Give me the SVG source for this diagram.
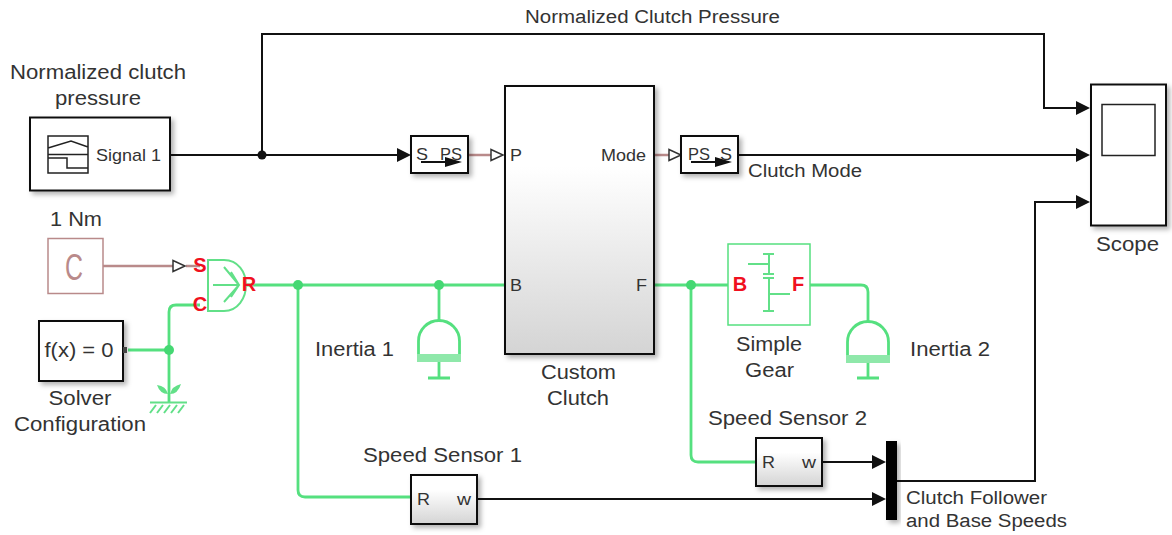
<svg xmlns="http://www.w3.org/2000/svg" width="1172" height="535" viewBox="0 0 1172 535">
<style>
text{font-family:"Liberation Sans",Arial,sans-serif;font-size:19.500px;fill:#333}
.m{text-anchor:middle}
.l{font-size:18px}
.p{font-size:17px}
.blk{fill:#fff;stroke:#111;stroke-width:2;filter:url(#sh)}
.grad{fill:url(#g);stroke:#111;stroke-width:2;filter:url(#sh)}
.sig{fill:none;stroke:#111;stroke-width:2}
.phy{fill:none;stroke:#55e07f;stroke-width:2.800;stroke-linejoin:round}
.thin{fill:none;stroke:#62e088;stroke-width:2}
.ps{fill:none;stroke:#b98a8a;stroke-width:2.500}
.open{fill:#fff;stroke:#333;stroke-width:1.500}
.arr{fill:#111}
.jb{fill:#111}
.jg{fill:#45d873}
.red{fill:#f01020;font-weight:bold;font-size:20px}
.ink{fill:none;stroke:#222;stroke-width:1.500}
</style>
<defs>
<linearGradient id="g" x1="0" y1="0" x2="0" y2="1"><stop offset="0.3" stop-color="#fff"/><stop offset="1" stop-color="#d4d4d4"/></linearGradient>
<filter id="sh" x="-20%" y="-20%" width="150%" height="150%"><feDropShadow dx="3" dy="3" stdDeviation="2.500" flood-color="#000" flood-opacity="0.3"/></filter>
</defs>

<g id="connectors">
<path class="sig" d="M170 155H400"/>
<path class="sig" d="M262 155V34H1044V108H1079"/>
<path class="sig" d="M738 155H1079"/>
<path class="sig" d="M896 481H1035V202H1079"/>
<path class="sig" d="M822 462H875"/>
<path class="sig" d="M477 499H875"/>
<path class="arr" d="M397 148L411 155L397 162Z"/>
<path class="arr" d="M1076 101L1090 108L1076 115Z"/>
<path class="arr" d="M1076 148L1090 155L1076 162Z"/>
<path class="arr" d="M1076 195L1090 202L1076 209Z"/>
<path class="arr" d="M872 455L886 462L872 469Z"/>
<path class="arr" d="M872 492L886 499L872 506Z"/>
<circle class="jb" cx="262" cy="155" r="4.500"/>
<path class="ps" d="M103 266H173M186 266H200"/>
<path class="ps" d="M468 155H491"/>
<path class="ps" d="M654 155H669"/>
<path class="open" d="M173 260.500L185 266L173 271.500Z"/>
<path class="open" d="M491 149.500L503 155L491 160.500Z"/>
<path class="open" d="M669 149.500L681 155L669 160.500Z"/>
<path class="phy" d="M200 305H176Q169 305 169 312V402"/>
<path class="phy" d="M128 350H169"/>
<path class="phy" d="M246 285H504"/>
<path class="phy" d="M298 285V490Q298 497 305 497H411"/>
<path class="phy" d="M439 285V320"/>
<path class="phy" d="M654 285H728"/>
<path class="phy" d="M691 285V455Q691 462 698 462H756"/>
<path class="phy" d="M810 285H861Q868 285 868 292V321"/>
<circle class="jg" cx="169" cy="350" r="5"/>
<circle class="jg" cx="298" cy="285" r="5"/>
<circle class="jg" cx="439" cy="285" r="5"/>
<circle class="jg" cx="691" cy="285" r="5"/>
</g>

<g id="signal-builder">
<rect class="blk" x="30" y="117.500" width="140" height="73"/>
<path class="ink" d="M48 136H88V173H48ZM48 154.500H88M48 148L71 141L88 147M48 158H67V168H88"/>
<text class="p" x="96" y="161" textLength="65" lengthAdjust="spacingAndGlyphs">Signal 1</text>
<text class="m" x="98" y="79" textLength="176" lengthAdjust="spacingAndGlyphs">Normalized clutch</text>
<text class="m" x="98" y="105" textLength="86" lengthAdjust="spacingAndGlyphs">pressure</text>
</g>

<g id="constant">
<rect x="48" y="238.500" width="55" height="55" fill="#fff" stroke="#b98a8a" stroke-width="1.500"/>
<text class="m" x="74" y="280" textLength="18" lengthAdjust="spacingAndGlyphs" style="font-size:36px;fill:#b98a8a">C</text>
<text class="m" x="76" y="226" textLength="52" lengthAdjust="spacingAndGlyphs">1 Nm</text>
</g>

<g id="adder">
<path class="thin" d="M208 260H224C238 260 246 272 246 285C246 298 238 311 224 311H208Z" stroke-width="2.500"/>
<path class="thin" d="M213 285H238M224 267L239 285L224 302M231 272L239 285L231 297"/>
<text class="red m" x="200" y="272">S</text>
<text class="red m" x="200" y="311">C</text>
<text class="red m" x="249" y="291">R</text>
</g>

<g id="solver">
<rect class="blk" x="39" y="321" width="84" height="60"/>
<rect x="123" y="347" width="4" height="6" fill="#444"/>
<text class="m" x="79" y="357" textLength="69" lengthAdjust="spacingAndGlyphs">f(x) = 0</text>
<text class="m" x="80" y="405" textLength="63" lengthAdjust="spacingAndGlyphs">Solver</text>
<text class="m" x="80" y="431" textLength="132" lengthAdjust="spacingAndGlyphs">Configuration</text>
</g>

<g id="ground">
<path d="M157 385Q166 386 168 394Q160 394 157 385ZM181 384Q172 386 170 394Q178 394 181 384Z" fill="#62e088"/>
<path class="thin" d="M150 402.500H187"/>
<path class="thin" stroke-width="2.500" d="M150 413L156 405M157 413L163 405M164 413L170 405M171 413L177 405M178 413L184 405"/>
</g>

<g id="s-ps">
<rect class="blk" x="411" y="136" width="57" height="37"/>
<text class="p" x="416" y="160" textLength="12" lengthAdjust="spacingAndGlyphs">S</text>
<text class="p" x="440" y="160" textLength="22" lengthAdjust="spacingAndGlyphs">PS</text>
<path class="sig" d="M421 162H450" stroke-width="1.500"/>
<path class="arr" d="M445 157L462 162L445 167Z"/>
</g>

<g id="custom-clutch">
<rect class="grad" x="505" y="86" width="149" height="268"/>
<text class="p" x="510" y="161" textLength="12" lengthAdjust="spacingAndGlyphs">P</text>
<text class="p" x="601" y="161" textLength="45" lengthAdjust="spacingAndGlyphs">Mode</text>
<text class="p" x="510" y="291" textLength="12" lengthAdjust="spacingAndGlyphs">B</text>
<text class="p" x="636" y="291" textLength="11" lengthAdjust="spacingAndGlyphs">F</text>
<text class="m" x="578.500" y="379" textLength="75" lengthAdjust="spacingAndGlyphs">Custom</text>
<text class="m" x="578" y="405" textLength="62" lengthAdjust="spacingAndGlyphs">Clutch</text>
</g>

<g id="ps-s">
<rect class="blk" x="681" y="136" width="57" height="37"/>
<text class="p" x="688" y="160" textLength="22" lengthAdjust="spacingAndGlyphs">PS</text>
<text class="p" x="720" y="160" textLength="12" lengthAdjust="spacingAndGlyphs">S</text>
<path class="sig" d="M691 162H720" stroke-width="1.500"/>
<path class="arr" d="M715 157L732 162L715 167Z"/>
</g>

<g id="scope">
<rect class="blk" x="1091" y="84.500" width="75" height="141"/>
<rect x="1102" y="104.500" width="53" height="51" fill="#fff" stroke="#222" stroke-width="1.500"/>
<text class="m" x="1127.500" y="251" textLength="63" lengthAdjust="spacingAndGlyphs">Scope</text>
</g>

<g id="inertia-1">
<path class="phy" d="M418.500 355V341A20.500 20.500 0 0 1 459.500 341V355"/>
<rect x="417" y="354" width="44" height="8" fill="#8fe8aa"/>
<path class="phy" d="M439 362V378M428 378H450"/>
<text x="315" y="356" textLength="79" lengthAdjust="spacingAndGlyphs">Inertia 1</text>
</g>

<g id="simple-gear">
<rect x="728" y="244" width="82" height="81" fill="#fff" stroke="#55e07f" stroke-width="1.500"/>
<path class="thin" d="M763 254H774M769 254V274M763 274H774M748 264H769M763 278H774M769 278V311M763 311H774M769 294H790"/>
<text class="red m" x="740" y="291">B</text>
<text class="red m" x="798" y="291">F</text>
<text class="m" x="769" y="351" textLength="66" lengthAdjust="spacingAndGlyphs">Simple</text>
<text class="m" x="769.500" y="377" textLength="49" lengthAdjust="spacingAndGlyphs">Gear</text>
</g>

<g id="inertia-2">
<path class="phy" d="M847.500 356V342A20.500 20.500 0 0 1 888.500 342V356"/>
<rect x="846" y="355" width="44" height="8" fill="#8fe8aa"/>
<path class="phy" d="M868 363V378M857 378H879"/>
<text x="910" y="356" textLength="80" lengthAdjust="spacingAndGlyphs">Inertia 2</text>
</g>

<g id="speed-sensor-1">
<rect class="grad" x="411" y="475" width="66" height="49"/>
<text class="p" x="417" y="505" textLength="13" lengthAdjust="spacingAndGlyphs">R</text>
<text class="p" x="457" y="505" textLength="14" lengthAdjust="spacingAndGlyphs">w</text>
<text class="m" x="442.500" y="462" textLength="159" lengthAdjust="spacingAndGlyphs">Speed Sensor 1</text>
</g>

<g id="speed-sensor-2">
<rect class="grad" x="756" y="438" width="66" height="48"/>
<text class="p" x="762" y="468" textLength="13" lengthAdjust="spacingAndGlyphs">R</text>
<text class="p" x="802" y="468" textLength="14" lengthAdjust="spacingAndGlyphs">w</text>
<text class="m" x="787.500" y="425" textLength="159" lengthAdjust="spacingAndGlyphs">Speed Sensor 2</text>
</g>

<g id="mux">
<rect x="886" y="441" width="11" height="79" fill="#000" filter="url(#sh)"/>
<text class="l" x="906" y="504" textLength="141" lengthAdjust="spacingAndGlyphs">Clutch Follower</text>
<text class="l" x="906" y="527" textLength="161" lengthAdjust="spacingAndGlyphs">and Base Speeds</text>
</g>

<g id="signal-labels">
<text class="l m" x="652.500" y="23" textLength="255" lengthAdjust="spacingAndGlyphs">Normalized Clutch Pressure</text>
<text class="l" x="748" y="177" textLength="114" lengthAdjust="spacingAndGlyphs">Clutch Mode</text>
</g>
</svg>
